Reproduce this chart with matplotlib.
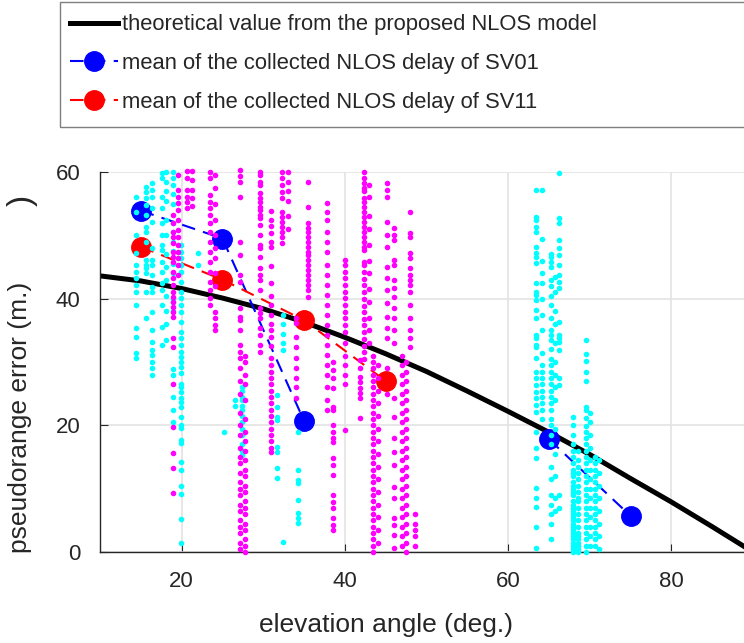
import numpy as np
import matplotlib
matplotlib.use('Agg')
import matplotlib.pyplot as plt
from matplotlib.patches import Rectangle

plt.rcParams['font.family'] = ['Liberation Sans', 'DejaVu Sans']

# theoretical NLOS model curve
model_el = [10, 15, 20, 25, 30, 35, 40, 45, 50, 55, 60, 65, 70, 75, 80, 85, 90]
model_err = [43.6, 42.8, 41.6, 40.1, 38.4, 36.3, 33.9, 31.3, 28.5, 25.4, 22.2, 18.9, 15.4, 11.6, 7.9, 4.0, 0.0]

# means per 10 deg bin
sv01_el = [15, 25, 35, 45, 55, 65, 75]
sv01_mean = [53.9, 49.5, 20.7, np.nan, np.nan, 17.8, 5.7]
sv11_el = [15, 25, 35, 45]
sv11_mean = [48.2, 43.0, 36.6, 27.0]

# raw NLOS delays, grouped in streaks (elevation, errors)
sv01_streaks = [
    (14.4, [56.1, 53.7, 50.1, 47.2, 45.3, 44.2, 43.3, 42.2, 41.1, 39.0, 35.4, 34.0, 31.4, 30.6]),
    (15.6, [57.7, 56.9, 55.9, 54.8, 53.2, 51.3, 50.6, 49.0, 46.1, 45.3, 44.9, 44.1, 41.1, 37.0]),
    (16.4, [58.3, 57.2, 56.1, 54.3, 52.1, 48.0, 46.1, 45.3, 43.8, 41.9, 41.1, 37.9, 35.1, 33.2, 31.9, 31.1, 30.0, 29.1, 28.0]),
    (17.6, [59.9, 59.1, 56.1, 54.3, 52.0, 50.1, 48.5, 47.7, 45.8, 44.2, 42.5, 41.4, 39.0, 35.5, 32.7]),
    (18.1, [60.0, 58.5, 57.0, 55.5, 52.5, 50.0, 47.0, 45.0, 43.0, 40.5, 38.0, 36.0, 33.5]),
    (19.0, [60.0, 59.0, 58.0, 56.5, 55.0, 52.0, 50.5, 49.0, 47.5, 45.5, 44.0, 40.0, 39.5, 38.0, 28.9, 28.0, 24.5, 22.4, 20.5]),
    (19.9, [48.5, 47.4, 46.4, 45.3, 44.2, 42.7, 41.1, 40.1, 39.0, 37.9, 36.3, 34.8, 33.8, 32.7, 31.6, 30.8, 30.0,
            29.2, 28.3, 26.5, 26.1, 25.3, 24.3, 23.7, 22.9, 21.3, 20.1, 19.6, 17.7, 17.2, 14.2, 13.0, 10.4, 9.2, 5.2, 1.4]),
    (22.0, [47.2, 45.3]),
    (25.2, [19.0]),
    (26.6, [24.0, 23.0]),
    (27.4, [26.1, 25.5, 24.5, 24.0, 23.0, 22.5, 21.5, 20.5, 19.5, 18.5, 17.0, 16.0, 15.3]),
    (31.7, [24.8, 22.9, 21.3, 20.9, 16.6, 15.8, 13.3, 11.7]),
    (32.4, [37.4, 36.0, 34.5, 33.0, 31.9, 1.6]),
    (34.2, [19.0, 13.0, 11.4, 10.9, 8.2, 6.2, 5.4, 4.6]),
    (63.4, [57.2, 52.9, 52.4, 51.3, 50.6, 48.2, 47.2, 46.6, 45.7, 42.5, 41.1, 40.6, 39.8, 38.2, 37.0, 34.3, 33.8,
            32.7, 32.4, 30.6, 28.4, 27.5, 26.4, 25.3, 24.3, 23.2, 22.1, 19.0, 16.4, 14.8, 10.1, 8.5, 7.1, 3.9, 0.6]),
    (64.2, [57.2, 49.5, 46.0, 44.0, 42.5, 40.0, 37.5, 35.0, 31.5, 29.5, 28.5, 27.5, 26.5, 25.5, 24.5, 23.5, 22.5, 21.0]),
    (65.2, [47.0, 46.6, 45.8, 45.0, 43.0, 42.0, 40.5, 39.0, 37.0, 35.0, 34.3, 33.5, 32.0, 30.5, 29.5, 28.5, 27.5,
            26.5, 25.5, 24.5, 23.5, 22.5, 21.0, 20.0, 18.5, 17.0, 13.5, 11.5, 9.0, 7.5, 6.0, 4.5, 2.0]),
    (65.8, [43.5, 41.0, 38.0, 36.0, 33.0, 30.0, 28.0, 26.0, 24.0, 19.5, 15.5, 12.0, 8.5, 6.5]),
    (66.2, [59.9, 52.8, 52.0, 49.3, 48.0, 46.9, 45.3, 43.8, 42.7, 41.7, 36.3, 34.3, 33.8, 33.2, 31.9, 27.5, 26.4, 9.0, 6.9]),
    (68.0, [21.3, 20.0, 18.5, 17.0, 16.0, 15.0, 14.0, 13.0, 12.5, 12.0, 11.0, 10.5, 10.0, 9.5, 9.0, 8.0, 7.5, 7.0,
            6.5, 6.0, 5.5, 5.0, 4.5, 4.0, 3.5, 3.0, 2.5, 2.0, 1.5, 1.0, 0.5, 0.0]),
    (68.6, [16.0, 14.5, 13.5, 12.5, 11.5, 10.5, 9.5, 8.5, 8.0, 7.0, 6.0, 5.0, 4.0, 3.0, 2.5, 2.0, 1.5, 1.0, 0.5, 0.0]),
    (69.5, [33.5, 31.2, 30.1, 28.5, 27.0, 22.9, 22.4, 21.2, 19.9, 19.0, 18.0, 17.0, 16.0, 15.0, 14.0, 13.0, 12.0,
            11.0, 10.0, 9.0, 8.0, 7.0, 6.0, 5.0, 4.0, 3.0, 2.0, 1.0, 0.0]),
    (70.0, [22.0, 20.5, 18.5, 16.5, 14.5, 13.0, 11.5, 10.0, 8.5, 7.0, 5.5, 4.0, 2.5, 1.0]),
    (70.6, [15.0, 14.0, 13.0, 12.0, 11.0, 10.0, 9.0, 8.0, 7.0, 6.0, 5.0, 4.0, 3.0, 2.0, 1.0]),
    (71.1, [14.5, 12.5, 10.5, 8.5, 6.5, 4.5, 2.5, 0.5]),
]

sv11_streaks = [
    (18.9, [53.2, 52.0, 50.6, 49.8, 48.8, 47.4, 46.6, 45.8, 44.2, 43.3, 42.2, 41.1, 40.3, 39.5, 38.7, 37.9, 37.1,
            33.8, 32.4, 26.5, 19.7, 15.6, 13.3, 9.3]),
    (19.6, [59.6, 57.2, 56.1, 55.1, 54.0, 52.4, 50.9, 49.8, 48.5, 47.4, 46.4, 45.3, 43.8]),
    (20.6, [60.1, 59.0, 57.2, 56.1, 55.3, 54.3]),
    (21.3, [60.1, 58.8, 57.2, 55.9, 54.6]),
    (23.5, [60.0, 59.1, 56.4, 55.3, 54.3, 53.2, 52.0, 50.6, 49.0, 47.4, 45.8, 44.2, 42.7, 41.4, 40.1, 39.0]),
    (24.1, [59.5, 57.5, 55.0, 52.5, 50.0, 48.0, 46.5, 44.0, 42.0, 37.9, 37.0, 35.9, 35.1]),
    (27.1, [60.3, 59.3, 58.5, 56.1, 49.0, 46.9, 43.8, 42.7, 38.5, 37.1, 36.7, 35.1, 32.7, 31.6, 30.6, 29.0, 27.0,
            25.0, 22.0, 20.0, 18.5, 16.5, 15.0, 14.0, 12.5, 11.0, 10.0, 9.0, 7.5, 6.5, 5.0, 4.0, 3.0, 1.5, 0.5]),
    (27.8, [31.0, 30.0, 28.0, 26.5, 24.0, 21.0, 19.0, 17.5, 16.0, 14.5, 13.0, 12.0, 10.5, 9.5, 8.0, 7.0, 6.0, 4.5,
            3.5, 2.0, 1.0, 0.0]),
    (29.6, [60.0, 59.6, 58.5, 58.0, 56.7, 55.9, 55.3, 54.5, 54.0, 53.2, 52.8, 51.7, 50.1, 48.5, 48.0, 46.6, 44.9,
            43.8, 43.0, 41.4, 38.5, 37.7, 37.0, 35.4, 34.3, 32.7, 31.6]),
    (30.9, [53.8, 52.5, 51.4, 50.4, 49.0, 48.2, 45.1, 42.5, 40.5, 39.0, 37.5, 36.0, 35.0, 34.0, 32.5, 30.6, 29.5,
            28.5, 27.5, 26.5, 25.5, 24.5, 23.5, 22.5, 21.5, 20.5, 19.5, 18.5, 17.5, 16.5, 15.8]),
    (32.3, [60.0, 59.1, 58.0, 56.9, 55.9, 53.7, 52.9, 52.1, 51.3, 50.6, 49.8, 48.8]),
    (33.0, [60.0, 58.5, 57.0, 55.5, 53.0, 51.0]),
    (34.0, [37.0, 36.2, 34.0, 32.4, 30.6, 29.0, 27.5, 26.0, 24.3]),
    (35.5, [58.5, 54.5, 52.0, 51.2, 50.6, 49.8, 49.0, 48.2, 47.4, 46.9, 46.1, 45.3, 44.5, 43.8, 43.0, 42.2, 41.4, 40.3]),
    (37.8, [55.1, 53.7, 52.4, 50.6, 49.0, 47.4, 45.3, 43.8, 42.2, 40.6, 39.0, 37.4, 35.9, 34.3, 32.7, 31.1, 29.5,
            28.0, 26.0, 24.0, 22.5]),
    (38.5, [30.0, 28.8, 27.5, 25.9, 22.9, 22.4, 20.1, 19.0, 18.0, 17.4, 14.8, 13.7, 12.2, 9.0, 7.9, 7.0, 5.4, 4.3, 3.5]),
    (40.0, [46.1, 45.3, 44.2, 43.3, 42.2, 41.1, 40.1, 39.0, 37.9, 37.0, 35.9, 34.8, 33.0, 31.0, 29.5, 28.0, 26.5, 19.3]),
    (41.8, [30.3, 29.1, 27.6, 26.9, 25.9, 25.1, 24.3, 21.2]),
    (42.3, [60.0, 59.1, 58.3, 57.5, 57.0, 55.9, 55.3, 54.5, 53.7, 52.9, 52.1, 51.3, 50.6, 49.8, 49.0, 48.2, 47.7,
            45.8, 45.3, 44.2, 43.1, 42.1, 41.0, 40.0, 38.9, 37.9, 36.8, 35.8, 34.7, 33.7, 32.6, 31.6, 30.5]),
    (43.0, [58.0, 56.0, 53.0, 51.0, 48.5, 46.0, 44.0, 41.5, 39.5, 37.0, 35.0, 33.0]),
    (43.5, [31.0, 30.0, 29.0, 28.0, 27.0, 26.0, 25.0, 24.0, 23.0, 22.0, 21.0, 20.0, 19.0, 18.0, 17.0, 16.0, 15.0,
            14.0, 13.0, 12.0, 11.0, 10.0, 9.0, 8.0, 7.0, 6.0, 5.0, 4.0, 3.0, 2.0, 1.0, 0.0]),
    (44.1, [29.5, 27.5, 25.5, 23.5, 21.5, 19.5, 17.5, 15.5, 13.5, 11.5, 9.5, 7.5, 5.5, 3.5, 1.5]),
    (45.1, [58.3, 57.2, 56.1, 52.1, 50.1, 48.2, 45.0, 43.3, 41.4, 39.3, 37.1, 35.4, 33.8, 29.0, 25.0]),
    (46.0, [51.2, 50.1, 49.3, 46.1, 45.3, 43.0, 41.7, 40.3, 38.5, 37.0, 35.1, 33.0, 24.3, 21.3, 18.0, 15.8, 13.7,
            10.3, 8.5, 5.4, 4.3, 2.7, 0.6]),
    (47.0, [31.0, 29.5, 28.0, 26.5, 25.0, 23.5, 22.0, 20.5, 19.0, 17.5, 16.0, 14.5, 13.0, 11.5, 10.0, 8.5, 7.0,
            5.5, 4.0, 2.5, 1.0]),
    (47.5, [30.0, 28.5, 27.0, 25.5, 24.0, 22.5, 21.0, 19.5, 18.0, 16.5, 15.0, 13.5, 12.0, 10.5, 9.0, 7.5, 6.0,
            4.5, 3.0, 1.5, 0.0]),
    (48.0, [53.7, 50.4, 49.8, 47.2, 46.4, 44.9, 43.8, 43.0, 42.2, 41.1, 39.0, 37.0, 35.1, 33.8, 32.4]),
    (48.6, [6.0, 4.5, 3.5, 2.5, 1.0]),
]


def flatten(streaks):
    xs, ys = [], []
    for el, errs in streaks:
        xs += [el] * len(errs)
        ys += errs
    return np.array(xs), np.array(ys)


sv01_x, sv01_y = flatten(sv01_streaks)
sv11_x, sv11_y = flatten(sv11_streaks)

txt = '#262626'
fig = plt.figure(figsize=(7.44, 6.43), dpi=100)
ax = fig.add_axes([100 / 744, 1 - 552 / 643, 653 / 744, 380 / 643])

h0, = ax.plot(model_el, model_err, color='black', lw=3.6, zorder=2,
              label='theoretical value from the proposed NLOS model')
h1, = ax.plot(sv01_el, sv01_mean, color='blue', ls='--', dashes=(6.5, 4), lw=1.5,
              marker='o', ms=14, zorder=3, label='mean of the collected NLOS delay of SV01')
h2, = ax.plot(sv11_el, sv11_mean, color='red', ls='--', dashes=(6.5, 4), lw=1.5,
              marker='o', ms=14, zorder=3, label='mean of the collected NLOS delay of SV11')

ax.scatter(sv01_x, sv01_y, s=16, color='#00ffff', lw=0, zorder=4, clip_on=False)
ax.scatter(sv11_x, sv11_y, s=16, color='#ff00ff', lw=0, zorder=4, clip_on=False)

ax.set_xlim(10, 90)
ax.set_ylim(0, 60)
ax.set_xticks([20, 40, 60, 80])
ax.set_yticks([0, 20, 40, 60])
ax.grid(True, color='#e3e3e3', lw=1.2)
ax.set_axisbelow(True)
for s in ['top', 'right']:
    ax.spines[s].set_visible(False)
for s in ['left', 'bottom']:
    ax.spines[s].set_color(txt)
    ax.spines[s].set_linewidth(1.0)
ax.tick_params(direction='in', length=6, labelsize=16, colors=txt, pad=14)

ax.set_xlabel('elevation angle (deg.)', fontsize=19, color=txt, va='center')
ax.xaxis.set_label_coords(0.438, -0.192)
ax.set_ylabel('pseudorange error (m.)', fontsize=19, color=txt, va='center')
ax.yaxis.set_label_coords(-0.1225, 0.355)
ax.text(-0.119, 0.925, ')', transform=ax.transAxes, rotation=90, fontsize=24,
        color=txt, ha='center', va='center')

# legend box drawn separately so its size matches the original
fig.patches.append(Rectangle((60 / 744, 1 - 127 / 643), 720 / 744, 125 / 643,
                             transform=fig.transFigure, fill=False,
                             edgecolor='#7f7f7f', lw=1.0))
leg = fig.legend(handles=[h0, h1, h2], loc='upper left',
                 bbox_to_anchor=(65 / 744, 1 - 9 / 643),
                 fontsize=15.8, frameon=False, handlelength=2.15, handletextpad=0.2,
                 labelspacing=0.8, borderaxespad=0, borderpad=0.25)
for t in leg.get_texts():
    t.set_color(txt)

fig.savefig('out.png', dpi=100)
